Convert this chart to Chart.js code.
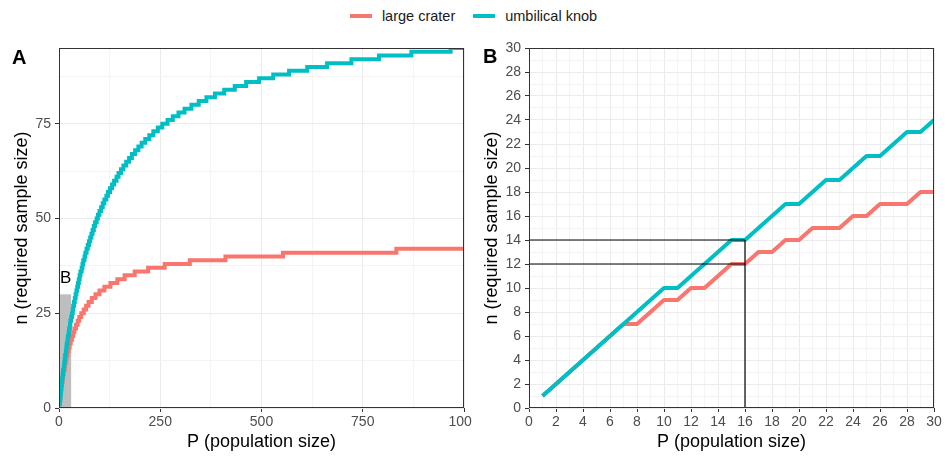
<!DOCTYPE html>
<html>
<head>
<meta charset="utf-8">
<script src="https://cdn.jsdelivr.net/npm/chart.js@4.4.0/dist/chart.umd.min.js"></script>
<style>
  body { margin: 0; background: #fff; width: 947px; height: 462px; position: relative; overflow: hidden;
         font-family: "Liberation Sans", Arial, sans-serif; }
  #legend { position: absolute; top: 6px; left: 0; width: 947px; height: 20px; display: flex;
            justify-content: center; align-items: center; font-size: 14.5px; color: #1a1a1a; }
  .item { display: flex; align-items: center; margin: 0 9px; }
  .key { width: 22px; height: 4px; margin-right: 10px; }
  #a { position: absolute; left: 0; top: 0; }
  #b { position: absolute; left: 473px; top: 0; }
</style>
</head>
<body>
<div id="legend">
  <div class="item"><span class="key" style="background:#F8766D"></span>large crater</div>
  <div class="item"><span class="key" style="background:#00BFC4"></span>umbilical knob</div>
</div>
<canvas id="a" width="472" height="462"></canvas>
<canvas id="b" width="474" height="462"></canvas>
<script>
// panel B (P = 1..30)
const smallP      = [1,2,3,4,5,6,7,8,9,10,11,12,13,14,15,16,17,18,19,20,21,22,23,24,25,26,27,28,29,30];
const smallKnob   = [1,2,3,4,5,6,7,8,9,10,10,11,12,13,14,14,15,16,17,17,18,19,19,20,21,21,22,23,23,24];
const smallCrater = [1,2,3,4,5,6,7,7,8,9,9,10,10,11,12,12,13,13,14,14,15,15,15,16,16,17,17,17,18,18];

// panel A, beyond P = 30: population size where n steps up, and the new n
const knobStepP = [32,34,35,37,39,41,43,45,47,49,51,53,56,58,60,63,65,68,71,74,77,80,83,86,89,93,96,100,
                   104,108,112,117,121,126,131,136,142,147,153,159,166,173,180,188,196,204,213,223,233,244,
                   255,268,281,295,310,327,345,364,385,408,434,462,494,529,568,613,662,722,790,870,967];
const knobStepN = [25,26,27,28,29,30,31,32,33,34,35,36,37,38,39,40,41,42,43,44,45,46,47,48,49,50,51,52,
                   53,54,55,56,57,58,59,60,61,62,63,64,65,66,67,68,69,70,71,72,73,74,
                   75,76,77,78,79,80,81,82,83,84,85,86,87,88,89,90,91,92,93,94,95];
const craterStepP = [32,35,38,42,46,50,55,61,67,73,81,90,100,112,127,144,162,187,220,261,323,411,553,833];
const craterStepN = [19,20,21,22,23,24,25,26,27,28,29,30,31,32,33,34,35,36,37,38,39,40,41,42];
const maxP = 1000;
const knobAtMax = 95;
const craterAtMax = 42;

// tick labels
const aXTicks = [0, 250, 500, 750, 1000];
const aYTicks = [0, 25, 50, 75];
const bTicks = [0,2,4,6,8,10,12,14,16,18,20,22,24,26,28,30];

// grey box in A marking the range of B, and the guide lines in B
const zoomP = 30, zoomN = 30;
const guideP = 16;
const guideN = [14, 12];

const RED = '#F8766D', TEAL = '#00BFC4';
const FONT = '"Liberation Sans", Arial, sans-serif';

function pts(xs, ys) { return xs.map((x, i) => ({ x: x, y: ys[i] })); }

// majors plus a minor tick half way between them
function withMinor(majors, max) {
  const out = [];
  majors.forEach((v, i) => {
    out.push(v);
    const step = i < majors.length - 1 ? majors[i + 1] - v : v - majors[i - 1];
    if (v + step / 2 <= max) out.push(v + step / 2);
  });
  return out;
}

function axis(majors, max, title, titlePad, labelPad, isY, width) {
  const isMajor = c => c.tick && majors.includes(c.tick.value);
  return {
    type: 'linear', min: 0, max: max,
    afterBuildTicks: s => { s.ticks = withMinor(majors, max).map(v => ({ value: v })); },
    afterFit: s => {
      if (isY) s.width = width; else s.height = width;
      // let the last tick label run off the canvas, like the original
      s.paddingLeft = 0; s.paddingRight = 0;
    },
    grid: {
      color: c => isMajor(c) ? '#EBEBEB' : '#F4F4F4',
      lineWidth: 1,
      tickColor: c => isMajor(c) ? '#333333' : 'rgba(0,0,0,0)',
      tickLength: 4,
      tickWidth: 1
    },
    border: { display: false },
    ticks: {
      autoSkip: false, maxRotation: 0, padding: labelPad,
      color: '#4D4D4D', font: { size: 14, family: FONT },
      callback: v => majors.includes(v) ? String(v) : ''
    },
    title: {
      display: true, text: title, color: '#000',
      font: { size: 18, family: FONT },
      padding: isY ? { top: titlePad, bottom: 0 } : { top: 0, bottom: titlePad }
    }
  };
}

const frame = {
  id: 'frame',
  beforeDatasetsDraw(chart, args, opts) {
    if (!opts.box) return;
    const { ctx, scales: { x, y } } = chart;
    const l = x.getPixelForValue(0), r = x.getPixelForValue(zoomP);
    const t = y.getPixelForValue(zoomN), b = y.getPixelForValue(0);
    ctx.save();
    ctx.fillStyle = '#BEBEBE';
    ctx.fillRect(l, t, r - l, b - t);
    ctx.fillStyle = '#000';
    ctx.font = '17px ' + FONT;
    ctx.textBaseline = 'alphabetic';
    ctx.fillText('B', l + 1, t - 11);
    ctx.restore();
  },
  afterDraw(chart, args, opts) {
    const { ctx, chartArea: a } = chart;
    ctx.save();
    ctx.strokeStyle = '#333333';
    ctx.lineWidth = 1;
    ctx.strokeRect(a.left + 0.5, a.top + 0.5, a.right - a.left - 1, a.bottom - a.top - 1);
    ctx.fillStyle = '#000';
    ctx.font = 'bold 20px ' + FONT;
    ctx.textBaseline = 'alphabetic';
    ctx.fillText(opts.tag, opts.tagX, opts.tagY);
    ctx.restore();
  }
};

const knobA = pts(smallP, smallKnob).concat(pts(knobStepP, knobStepN), [{ x: maxP, y: knobAtMax }]);
const craterA = pts(smallP, smallCrater).concat(pts(craterStepP, craterStepN), [{ x: maxP, y: craterAtMax }]);

new Chart(document.getElementById('a'), {
  type: 'line',
  data: {
    datasets: [
      { label: 'umbilical knob', data: knobA, borderColor: TEAL, borderWidth: 4, stepped: 'before', pointRadius: 0, clip: 0 },
      { label: 'large crater', data: craterA, borderColor: RED, borderWidth: 4, stepped: 'before', pointRadius: 0, clip: 0 }
    ]
  },
  options: {
    responsive: false,
    animation: false,
    layout: { autoPadding: false, padding: { top: 48, right: 8, left: 0, bottom: 0 } },
    scales: {
      x: axis(aXTicks, maxP, 'P (population size)', 9, 2, false, 54),
      y: axis(aYTicks, 95, 'n (required sample size)', 11, 4, true, 59)
    },
    plugins: {
      legend: { display: false },
      tooltip: { enabled: false },
      frame: { box: true, tag: 'A', tagX: 12, tagY: 64 }
    }
  },
  plugins: [frame]
});

const line = { borderColor: '#000', borderWidth: 1.2, pointRadius: 0, clip: 0 };

new Chart(document.getElementById('b'), {
  type: 'line',
  data: {
    datasets: [
      Object.assign({ data: [{ x: guideP, y: 0 }, { x: guideP, y: guideN[0] }] }, line),
      Object.assign({ data: [{ x: 0, y: guideN[0] }, { x: guideP, y: guideN[0] }] }, line),
      Object.assign({ data: [{ x: 0, y: guideN[1] }, { x: guideP, y: guideN[1] }] }, line),
      { label: 'umbilical knob', data: pts(smallP, smallKnob), borderColor: TEAL, borderWidth: 4,
        pointRadius: 0, borderJoinStyle: 'round', clip: 0 },
      { label: 'large crater', data: pts(smallP, smallCrater), borderColor: RED, borderWidth: 4,
        pointRadius: 0, borderJoinStyle: 'round', clip: 0 }
    ]
  },
  options: {
    responsive: false,
    animation: false,
    layout: { autoPadding: false, padding: { top: 48, right: 13, left: 0, bottom: 0 } },
    scales: {
      x: axis(bTicks, 30, 'P (population size)', 9, 2, false, 54),
      y: axis(bTicks, 30, 'n (required sample size)', 8, 4, true, 56)
    },
    plugins: {
      legend: { display: false },
      tooltip: { enabled: false },
      frame: { box: false, tag: 'B', tagX: 10, tagY: 63 }
    }
  },
  plugins: [frame]
});
</script>
</body>
</html>
